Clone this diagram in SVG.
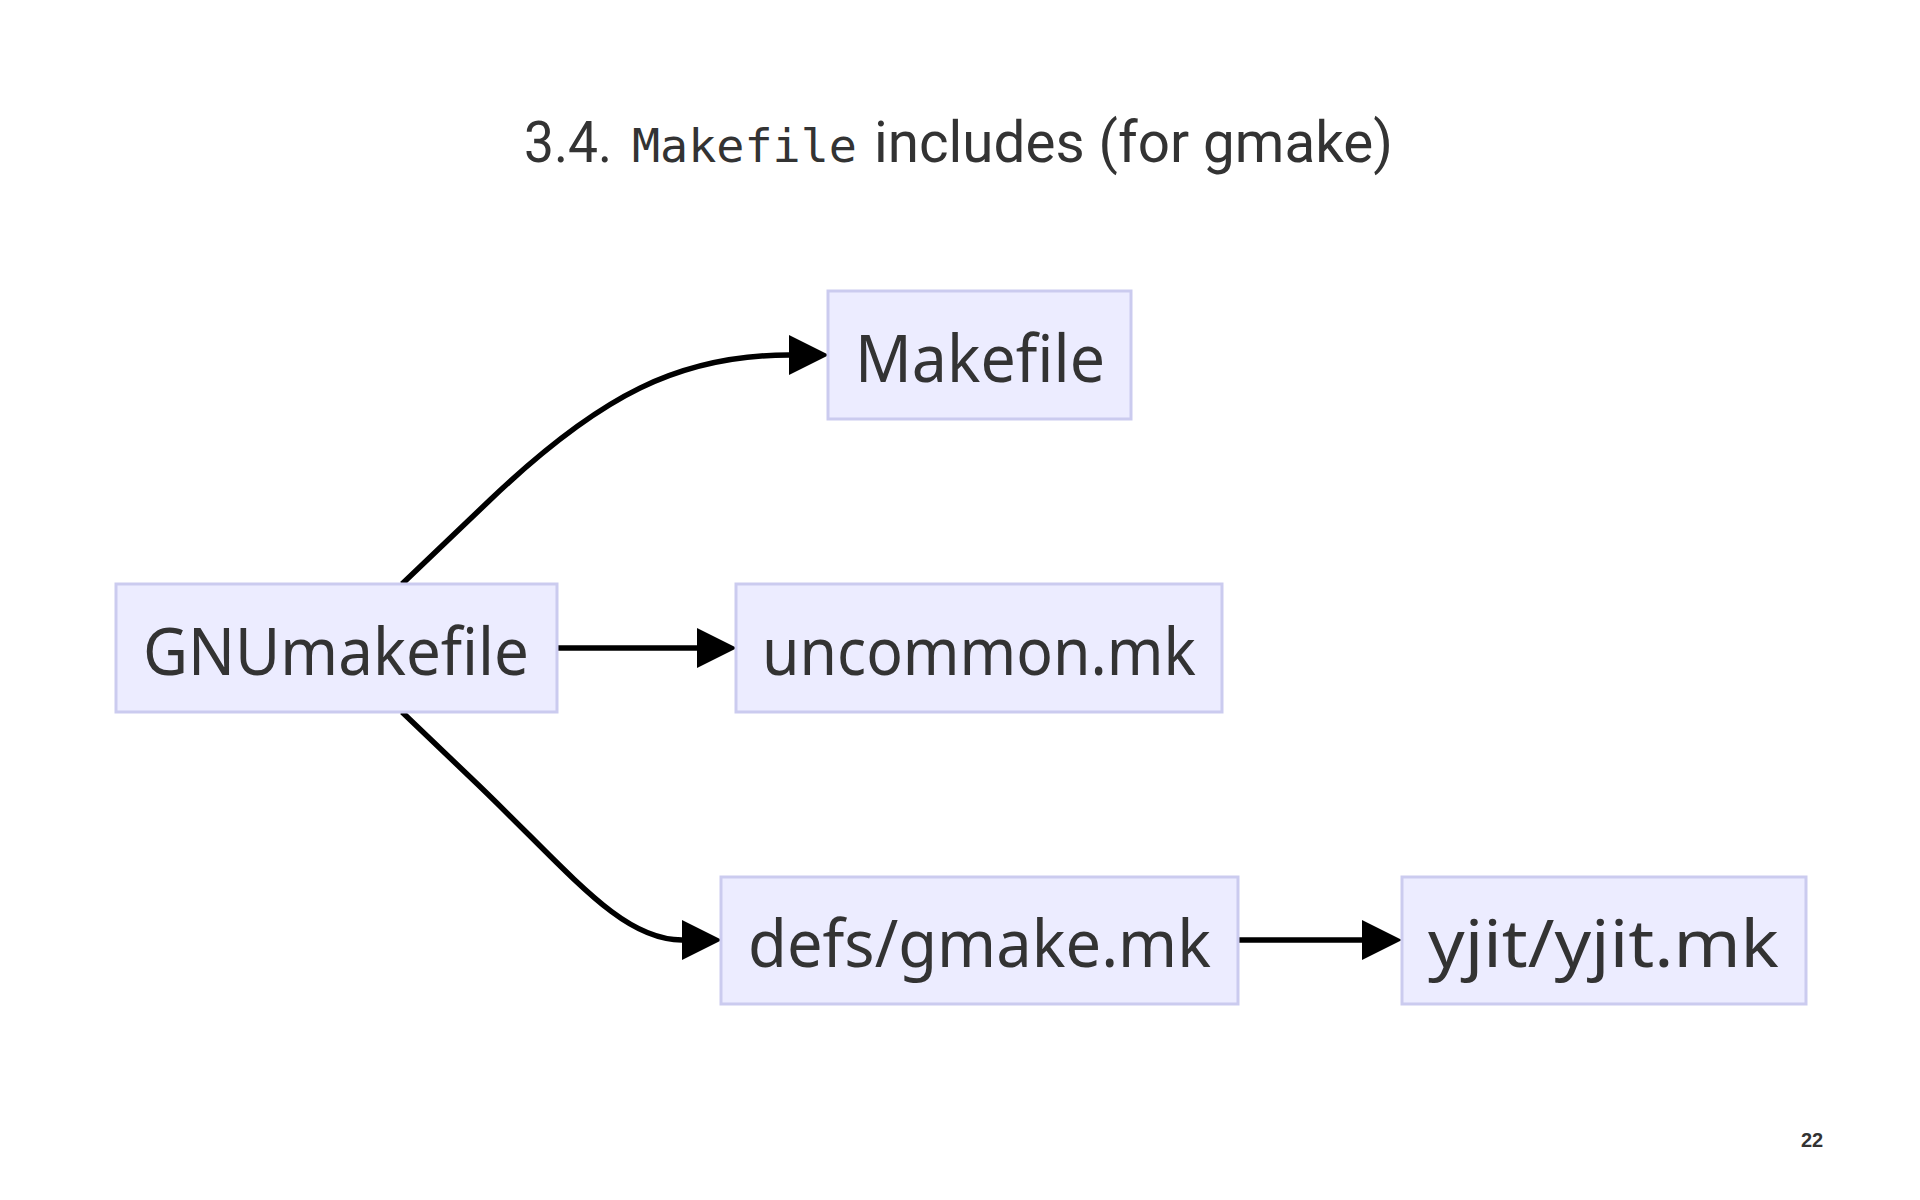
<svg xmlns="http://www.w3.org/2000/svg" width="1920" height="1200" viewBox="0 0 1920 1200">
<style>
.node rect{fill:#ECECFF;stroke:#cbcbef;stroke-width:3}
.node text{font-family:"Noto Sans","Open Sans",sans-serif;font-size:66px;fill:#333;text-anchor:start}
.title{font-family:Roboto,"Noto Sans",sans-serif;font-size:58px;fill:#333}
.mono{font-family:"DejaVu Sans Mono","Liberation Mono",monospace;font-size:46px;fill:#333}
.edge{fill:none;stroke:#000;stroke-width:5.5}
</style>
<defs>
<marker id="arr" viewBox="0 0 10 10" refX="0" refY="5" markerWidth="42" markerHeight="40" markerUnits="userSpaceOnUse" orient="auto">
<path d="M0,0 L10,5 L0,10 z" fill="#000"/>
</marker>
</defs>
<rect width="1920" height="1200" fill="#fff"/>
<text class="title" x="524" y="162" textLength="88" lengthAdjust="spacingAndGlyphs">3.4.</text>
<text class="mono" x="632" y="162" textLength="225" lengthAdjust="spacingAndGlyphs">Makefile</text>
<text class="title" x="874" y="162" textLength="519" lengthAdjust="spacingAndGlyphs">includes (for gmake)</text>
<g id="edges">
<path class="edge" d="M402,584 L490,500 C600,395 680,355 789,355" marker-end="url(#arr)"/>
<path class="edge" d="M557,648 L697,648" marker-end="url(#arr)"/>
<path class="edge" d="M402,712 L470,777 C570,872 620,940 682,940" marker-end="url(#arr)"/>
<path class="edge" d="M1238,940 L1362,940" marker-end="url(#arr)"/>
</g>
<g id="node-makefile" class="node">
<rect x="828" y="291" width="303" height="128"/>
<text x="855" y="382" textLength="250" lengthAdjust="spacingAndGlyphs">Makefile</text>
</g>
<g id="node-gnumakefile" class="node">
<rect x="116" y="584" width="441" height="128"/>
<text x="143" y="675" textLength="386" lengthAdjust="spacingAndGlyphs">GNUmakefile</text>
</g>
<g id="node-uncommon" class="node">
<rect x="736" y="584" width="486" height="128"/>
<text x="762" y="675" textLength="434" lengthAdjust="spacingAndGlyphs">uncommon.mk</text>
</g>
<g id="node-defs" class="node">
<rect x="721" y="877" width="517" height="127"/>
<text x="748" y="967" textLength="463" lengthAdjust="spacingAndGlyphs">defs/gmake.mk</text>
</g>
<g id="node-yjit" class="node">
<rect x="1402" y="877" width="404" height="127"/>
<text x="1428" y="967" textLength="351" lengthAdjust="spacingAndGlyphs">yjit/yjit.mk</text>
</g>
<text x="1812" y="1147" font-family="'Liberation Sans',Arial,sans-serif" font-weight="bold" font-size="20" fill="#333" text-anchor="middle">22</text>
</svg>
